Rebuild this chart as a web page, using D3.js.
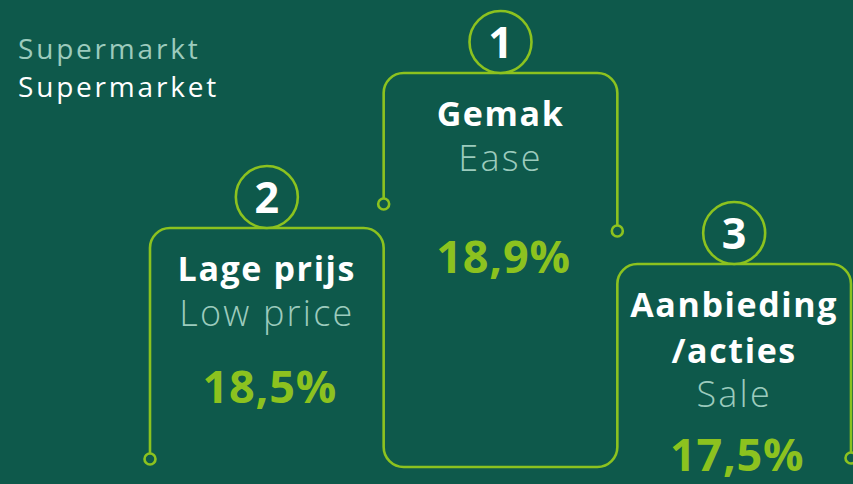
<!DOCTYPE html>
<html>
<head>
<meta charset="utf-8">
<script src="https://cdn.jsdelivr.net/npm/d3@7"></script>
<style>
  html, body { margin: 0; padding: 0; background: #0e594b; }
  svg { display: block; }
</style>
</head>
<body>
<svg id="chart" width="853" height="484"></svg>
<script>
// data, left to right as drawn
const categories = ['Lage prijs', 'Gemak', 'Aanbieding/acties']
const titleLines = [['Lage prijs'], ['Gemak'], ['Aanbieding', '/acties']]
const subtitles = ['Low price', 'Ease', 'Sale']
const ranks = [2, 1, 3]
const values = [18.5, 18.9, 17.5]
const headerLines = ['Supermarkt', 'Supermarket']

const BG = '#0e594b'
const LIME = '#8cc21f'
const PALE = '#9ccbbd'
const FONT = '"Open Sans", "DejaVu Sans", sans-serif'

const svg = d3.select('#chart')

// x position of each box
const x = d3.scaleBand()
  .domain(categories)
  .range([150, 851])

// top of each box depends on the rank (podium)
const yTop = d3.scaleOrdinal()
  .domain([1, 2, 3])
  .range([73, 228, 264])

// where the value sits under the top of the box
const valueDy = d3.scaleOrdinal()
  .domain([1, 2, 3])
  .range([200, 175, 207])

const fmt = d3.formatLocale({ decimal: ',', thousands: '.', grouping: [3], currency: ['', '%'] }).format('.1f')

const corner = 20
const bottom = 467
const numR = 31

// header
svg.selectAll('.header')
  .data(headerLines)
  .join('text')
  .attr('class', 'header')
  .attr('x', 18)
  .attr('y', (d, i) => 59 + i * 38)
  .attr('fill', (d, i) => i === 0 ? PALE : '#ffffff')
  .style('font-family', FONT)
  .style('font-weight', 400)
  .style('font-size', '28px')
  .style('letter-spacing', '2.8px')
  .text(d => d)

const rows = categories.map((c, i) => ({
  cat: c, rank: ranks[i], title: titleLines[i], sub: subtitles[i], value: values[i]
}))

function edges (cat) {
  return [x(cat), x(cat) + x.bandwidth()]
}

// outlines
const [l2, r2] = edges(categories[0])
const [l1, r1] = edges(categories[1])
const [l3, r3] = edges(categories[2])

const p1 = d3.path()
p1.moveTo(l1, 204)
p1.arcTo(l1, yTop(1), r1, yTop(1), corner)
p1.arcTo(r1, yTop(1), r1, 231, corner)
p1.lineTo(r1, 231)

const p2 = d3.path()
p2.moveTo(l2, 459)
p2.arcTo(l2, yTop(2), r2, yTop(2), corner)
p2.arcTo(r2, yTop(2), r2, bottom, corner)
p2.arcTo(r2, bottom, l3, bottom, corner)
p2.arcTo(l3, bottom, l3, yTop(3), corner)
p2.arcTo(l3, yTop(3), r3, yTop(3), corner)
p2.arcTo(r3, yTop(3), r3, 458, corner)
p2.lineTo(r3, 458)

svg.selectAll('.outline')
  .data([p1.toString(), p2.toString()])
  .join('path')
  .attr('class', 'outline')
  .attr('d', d => d)
  .attr('fill', 'none')
  .attr('stroke', LIME)
  .attr('stroke-width', 2.6)

// little end dots
const ends = [[l1, 204], [r1, 231], [l2, 459], [r3, 458]]
svg.selectAll('.end')
  .data(ends)
  .join('circle')
  .attr('class', 'end')
  .attr('cx', d => d[0])
  .attr('cy', d => d[1])
  .attr('r', 5.5)
  .attr('fill', BG)
  .attr('stroke', LIME)
  .attr('stroke-width', 2.6)

// boxes content
const g = svg.selectAll('.box')
  .data(rows)
  .join('g')
  .attr('class', 'box')
  .attr('transform', d => 'translate(' + (x(d.cat) + x.bandwidth() / 2) + ',' + yTop(d.rank) + ')')

g.append('circle')
  .attr('cy', -numR)
  .attr('r', numR)
  .attr('fill', BG)
  .attr('stroke', LIME)
  .attr('stroke-width', 2.6)

g.append('text')
  .attr('y', -numR + 16)
  .attr('text-anchor', 'middle')
  .attr('fill', '#ffffff')
  .style('font-family', FONT)
  .style('font-weight', 700)
  .style('font-size', '43px')
  .text(d => d.rank)

g.each(function (d) {
  const box = d3.select(this)
  d.title.forEach((t, i) => {
    box.append('text')
      .attr('y', 53 + i * 46)
      .attr('text-anchor', 'middle')
      .attr('fill', '#ffffff')
      .style('font-family', FONT)
      .style('font-weight', 700)
      .style('font-size', '34px')
      .style('letter-spacing', '1.6px')
      .text(t)
  })
  box.append('text')
    .attr('y', 53 + d.title.length * 45)
    .attr('text-anchor', 'middle')
    .attr('fill', PALE)
    .style('font-family', FONT)
    .style('font-weight', 300)
    .style('font-size', '36px')
    .style('letter-spacing', '2.2px')
    .text(d.sub)
  box.append('text')
    .attr('x', 3)
    .attr('y', valueDy(d.rank))
    .attr('text-anchor', 'middle')
    .attr('fill', LIME)
    .style('font-family', FONT)
    .style('font-weight', 700)
    .style('font-size', '45px')
    .style('letter-spacing', '0.8px')
    .text(fmt(d.value) + '%')
})
</script>
</body>
</html>
